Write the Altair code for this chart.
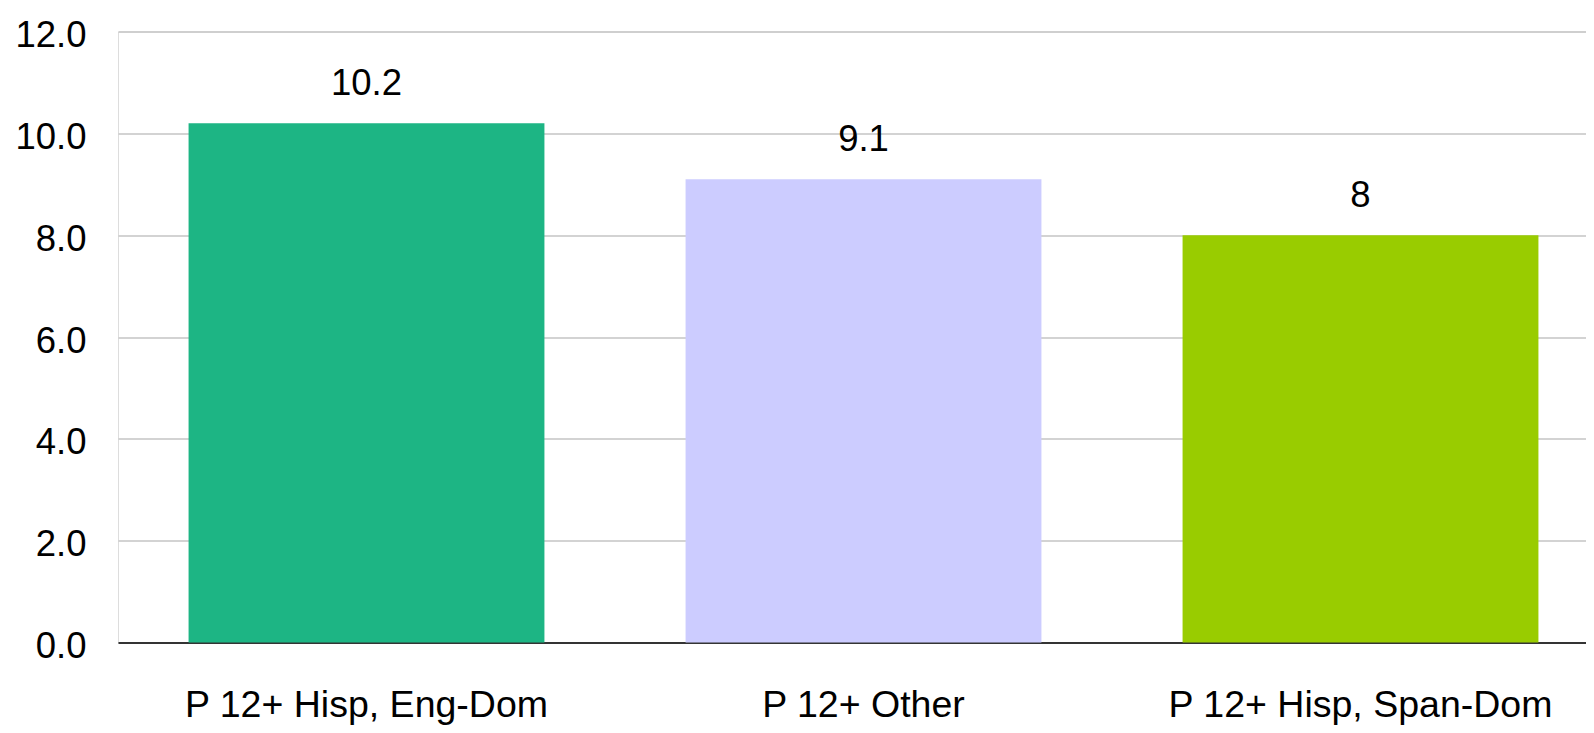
import altair as alt
import pandas as pd

categories = ["P 12+ Hisp, Eng-Dom", "P 12+ Other", "P 12+ Hisp, Span-Dom"]
values = [10.2, 9.1, 8]
colors = ["#1DB584", "#CCCCFF", "#99CC00"]
y_ticks = [0, 2, 4, 6, 8, 10, 12]

df = pd.DataFrame({"cat": categories, "val": values})

FONT = "Liberation Sans, Arial, Helvetica, sans-serif"

x_enc = alt.X(
    "cat:N",
    sort=categories,
    scale=alt.Scale(range=[0, 1491], paddingInner=0.284, paddingOuter=0.142),
    axis=alt.Axis(
        title=None, labelAngle=0, ticks=False, tickSize=0, labelPadding=73.5,
        labelBaseline="alphabetic", labelFont=FONT, labelFontSize=37.5,
        labelColor="#000000", domainColor="#000000", domainWidth=1.5,
        grid=False, labelLimit=600,
    ),
)
y_enc = alt.Y(
    "val:Q",
    scale=alt.Scale(domain=[0, 12], nice=False),
    axis=alt.Axis(
        title=None, values=y_ticks, format=".1f", ticks=False, tickSize=0,
        labelPadding=32, domain=False, labelFont=FONT, labelFontSize=36.5,
        labelColor="#000000", labelBaseline="alphabetic", labelOffset=15,
        gridColor="#C4C4C4", gridWidth=1.5,
    ),
)

bars = alt.Chart(df).mark_bar().encode(
    x=x_enc,
    y=y_enc,
    color=alt.Color("cat:N", sort=categories,
                    scale=alt.Scale(domain=categories, range=colors), legend=None),
)

labels = alt.Chart(df).mark_text(
    font=FONT, fontSize=36.5, color="#000000", baseline="alphabetic", dy=-28
).encode(
    x=alt.X("cat:N", sort=categories),
    y=alt.Y("val:Q"),
    text=alt.Text("val:N"),
)

chart = (
    alt.layer(bars, labels)
    .properties(
        width=1468, height=611,
        autosize=alt.AutoSizeParams(type="none"),
        padding={"left": 110, "top": 23.5, "right": 0, "bottom": 82},
    )
    .configure_view(stroke=None)
    .configure(background="#FFFFFF")
)

chart.save("out.html", embed_options={"renderer": "svg", "actions": False})
